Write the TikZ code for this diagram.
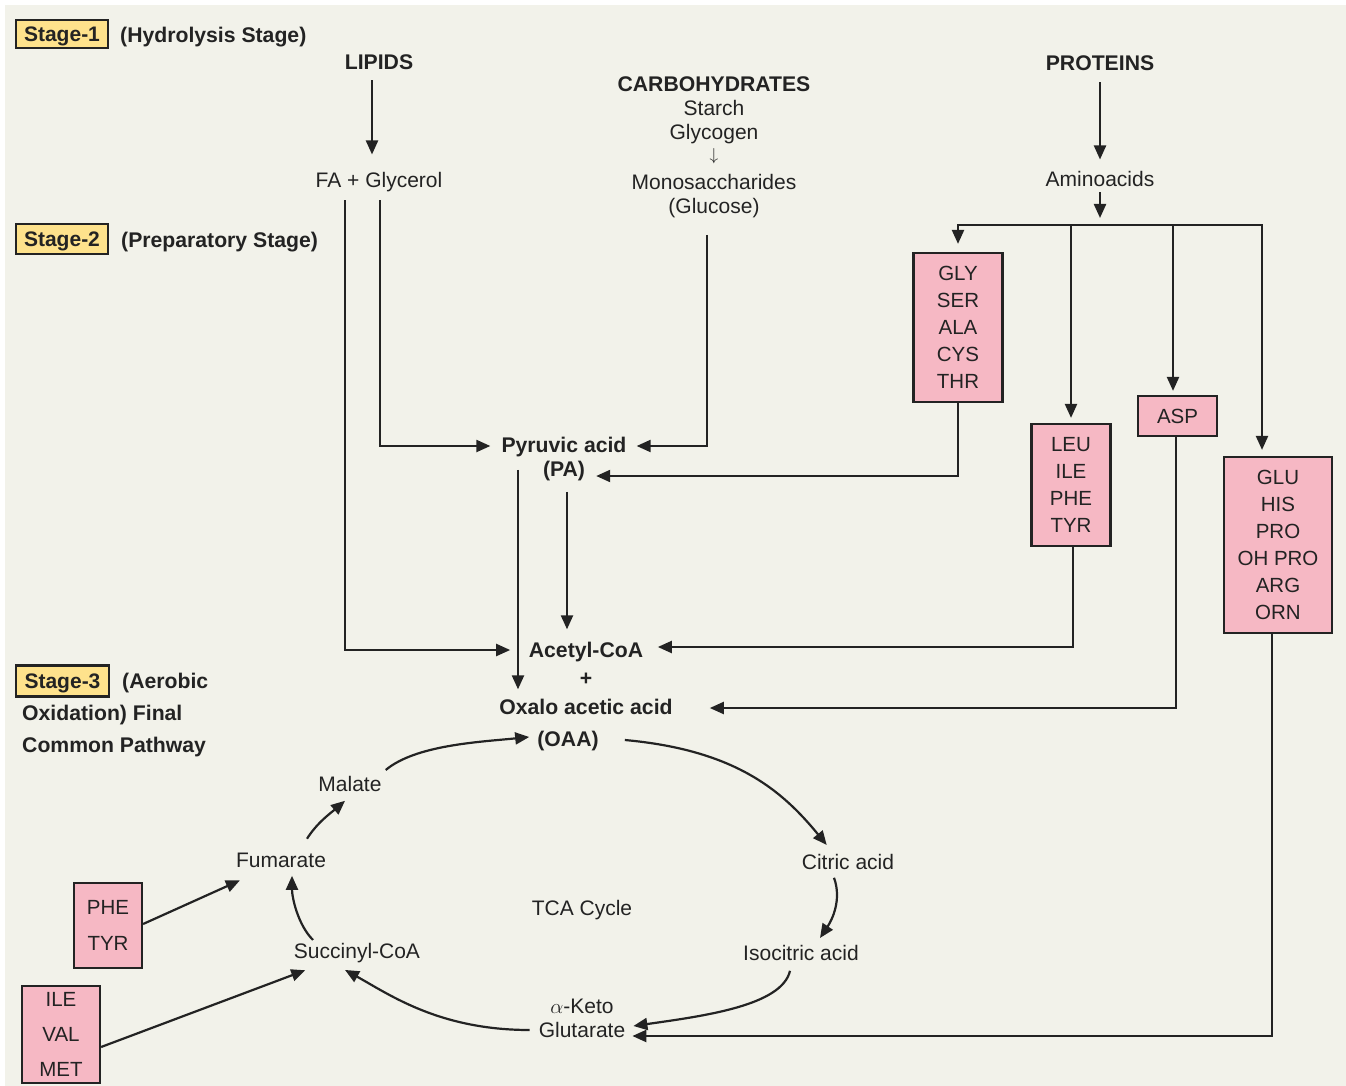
\documentclass[tikz,border=0pt]{standalone}
\usepackage{fontspec}
\setmainfont{Liberation Sans}
\usetikzlibrary{arrows.meta,calc}
\definecolor{bg}{HTML}{F2F2EA}
\definecolor{pinkbox}{HTML}{F6B8C4}
\definecolor{yelbox}{HTML}{FEE28C}
\definecolor{ink}{HTML}{232323}
\begin{document}
\begin{tikzpicture}[x=1pt,y=-1pt,
  lbl/.style={font=\fontsize{21}{24}\selectfont, text=ink, inner sep=0pt, anchor=mid, yshift=-2.75pt},
  blbl/.style={font=\bfseries\fontsize{21.2}{24}\selectfont, text=ink, inner sep=0pt, anchor=mid, yshift=-2.75pt},
  stagebox/.style={draw=ink, line width=2.2pt, fill=yelbox, font=\bfseries\fontsize{21}{24}\selectfont, text=ink, minimum width=92pt, inner sep=0pt, text height=15pt, text depth=0pt},
  aabox/.style={draw=ink, line width=2.2pt, fill=pinkbox, font=\fontsize{20.5}{27}\selectfont, text=ink, align=center, inner sep=0pt},
  conn/.style={draw=ink, line width=2.2pt},
  arr/.style={conn, -{Triangle[length=14pt,width=12pt]}},
]
\useasboundingbox (0,0) rectangle (1346,1086);
\fill[white] (0,0) rectangle (1346,1086);
\fill[bg] (5,5) rectangle (1346,1086);

% stage labels
\node[stagebox, minimum height=28pt] (s1) at (62,34) {Stage-1};
\node[blbl, anchor=mid west] (h1) at (120,37) {(Hydrolysis Stage)};
\node[stagebox, minimum height=30pt] (s2) at (62,239) {Stage-2};
\node[blbl, anchor=mid west] (h2) at (121,242) {(Preparatory Stage)};
\node[stagebox, minimum height=31pt, minimum width=93pt] (s3) at (62.5,681) {Stage-3};
\node[blbl, anchor=mid west] (h3a) at (122,683) {(Aerobic};
\node[blbl, anchor=mid west] (h3b) at (22,715) {Oxidation) Final};
\node[blbl, anchor=mid west] (h3c) at (22,747) {Common Pathway};

% stage 1 texts
\node[blbl] (lipids) at (379,64) {LIPIDS};
\node[blbl] (carbo) at (714,86) {CARBOHYDRATES};
\node[lbl] (starch) at (714,110) {Starch};
\node[lbl] (glycogen) at (714,134) {Glycogen};
\node[lbl, font=\fontsize{17}{20}\selectfont] (darrow) at (714,155) {$\downarrow$};
\node[lbl] (mono) at (714,184) {Monosaccharides};
\node[lbl] (glucose) at (714,208) {(Glucose)};
\node[blbl] (proteins) at (1100,65) {PROTEINS};
\node[lbl] (fa) at (379,182) {FA + Glycerol};
\node[lbl] (amino) at (1100,181) {Aminoacids};

% central
\node[blbl] (pyr) at (564,447) {Pyruvic acid};
\node[blbl] (pa) at (564,471) {(PA)};
\node[blbl] (acetyl) at (586,652) {Acetyl-CoA};
\node[blbl] (plus) at (586,680) {+};
\node[blbl] (oxalo) at (586,709) {Oxalo acetic acid};
\node[blbl] (oaa) at (568,741) {(OAA)};

% TCA cycle
\node[lbl] (malate) at (350,786) {Malate};
\node[lbl] (fumarate) at (281,862) {Fumarate};
\node[lbl] (succinyl) at (357,953) {Succinyl-CoA};
\node[lbl] (aketo) at (582,1008) {$\alpha$-Keto};
\node[lbl] (glut) at (582,1032) {Glutarate};
\node[lbl] (isocitric) at (801,955) {Isocitric acid};
\node[lbl] (citric) at (848,864) {Citric acid};
\node[lbl] (tca) at (582,910) {TCA Cycle};

% amino acid boxes
\node[aabox, minimum width=89pt, minimum height=149pt] (gly) at (958,327.5) {GLY\\SER\\ALA\\CYS\\THR};
\node[aabox, minimum width=79pt, minimum height=122pt] (leu) at (1071,485) {LEU\\ILE\\PHE\\TYR};
\node[aabox, minimum width=79pt, minimum height=40pt] (asp) at (1177.5,416) {ASP};
\node[aabox, minimum width=108pt, minimum height=176pt] (glu) at (1278,545) {GLU\\HIS\\PRO\\OH PRO\\ARG\\ORN};
\node[aabox, font=\fontsize{20.5}{36}\selectfont, minimum width=68pt, minimum height=85pt] (phe) at (108,925.5) {PHE\\TYR};
\node[aabox, font=\fontsize{20.5}{35}\selectfont, minimum width=78pt, minimum height=97pt] (ile) at (61,1034.5) {ILE\\VAL\\MET};

% stage 1 arrows
\draw[arr, shorten <=10.5pt, shorten >=17.5pt] ([shift={(-7,0)}]lipids.south) -- ([shift={(-7,0)}]fa.north);
\draw[arr, shorten <=11.5pt, shorten >=11.5pt] (proteins.south) -- (amino.north);
\coordinate (split) at (1100,225);
\draw[arr, shorten <=5.5pt, shorten >=7pt] (amino.south) -- (split);

% branch bar
\coordinate (bleu) at (leu.north |- split);
\coordinate (basp) at ($(asp.north |- split)+(-4.5,0)$);
\coordinate (bglu) at ($(glu.north |- split)+(-16,0)$);
\draw[arr, shorten >=8pt] (bleu) -| (gly.north);
\draw[arr, shorten >=6pt] (bleu) -| (bglu |- glu.north);
\draw[arr, shorten >=5pt] (bleu) -- (leu.north);
\draw[arr, shorten >=4pt] (basp) -- (basp |- asp.north);

% stage 2 connectors
\draw[arr, shorten <=8.3pt, shorten >=18.5pt] ([shift={(29.8,0)}]fa.south west) |- ([shift={(0,-4.75)}]acetyl.mid west);
\draw[arr, shorten <=8.3pt, shorten >=11pt] ([shift={(1,0)}]fa.south) |- ([shift={(0,-3.75)}]pyr.mid west);
\draw[arr, shorten <=17pt, shorten >=10pt] ([shift={(-7,0)}]glucose.south) |- ([shift={(0,-3.75)}]pyr.mid east);
\draw[arr, shorten >=11pt] (gly.south) |- ([shift={(0,2.25)}]pa.mid east);
\draw[arr, shorten <=13pt, shorten >=9.5pt] ([shift={(-46,0)}]pyr.south) -- ([shift={(-68,0)}]oxalo.north);
\draw[arr, shorten <=11pt, shorten >=12.5pt] ([shift={(3,0)}]pa.south) -- ([shift={(-19,0)}]acetyl.north);
\draw[arr, shorten >=14.5pt] ([shift={(2,0)}]leu.south) |- ([shift={(0,-7.75)}]acetyl.mid east);
\draw[arr, shorten >=37pt] ([shift={(-1.5,0)}]asp.south) |- ([shift={(0,-3.75)}]oxalo.mid east);
\draw[arr, shorten >=7pt] ([shift={(-6,0)}]glu.south) |- ([shift={(0,1.25)}]glut.mid east);

% TCA cycle arrows
\draw[arr] ([shift={(4,-6)}]malate.north east) .. controls +(30,-25) and +(-50,5) .. ([shift={(-8,-6.75)}]oaa.mid west);
\draw[arr] ([shift={(26,-3.75)}]oaa.mid east) .. controls +(110,10) and +(-45,-55) .. ([shift={(25,-9)}]citric.north west);
\draw[arr] ([shift={(-14,8)}]citric.south) .. controls +(8,22) and +(12,-18) .. ([shift={(19,-7)}]isocitric.north);
\draw[arr] ([shift={(-11,10)}]isocitric.south) .. controls +(-8,35) and +(70,-10) .. ([shift={(8,-8.75)}]glut.mid east);
\draw[arr] ([shift={(-9,-4.75)}]glut.mid west) .. controls +(-90,0) and +(45,25) .. ([shift={(-12,7)}]succinyl.south);
\draw[arr] ([shift={(-44,-3)}]succinyl.north) .. controls +(-15,-15) and +(0,22) .. ([shift={(11,8)}]fumarate.south);
\draw[arr] ([shift={(26,-14)}]fumarate.north) .. controls +(10,-16) and +(-14,12) .. ([shift={(-5,9)}]malate.south);

% side inputs
\draw[arr] ([shift={(0,-1.5)}]phe.east) -- ([shift={(4,12.6)}]fumarate.south west);
\draw[arr] ([shift={(0,12.5)}]ile.east) -- ([shift={(11.5,7.3)}]succinyl.south west);
\end{tikzpicture}
\end{document}
